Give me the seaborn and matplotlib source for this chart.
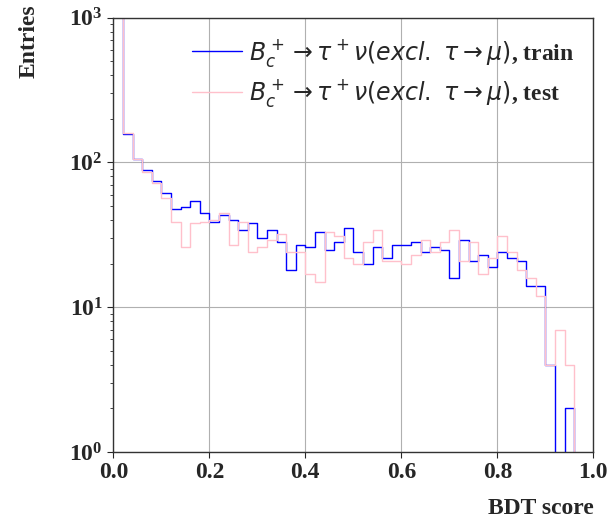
import numpy as np
import pandas as pd
import matplotlib
matplotlib.use("Agg")
import matplotlib.pyplot as plt
import seaborn as sns

# 50 bins on [0, 1]
n_bins = 50
bin_range = (0.0, 1.0)
train_counts = [3000, 156, 106, 89, 74, 61, 48, 49, 54, 45,
                39, 43, 40, 34, 38, 30, 34, 28, 18, 27,
                26, 33, 25, 28, 35, 24, 20, 26, 22, 27,
                27, 28, 24, 26, 25, 16, 29, 21, 23, 19,
                24, 22, 21, 14, 14, 4, 0, 2, 0, 0]
test_counts = [3000, 160, 106, 86, 72, 57, 39, 26, 38, 39,
               40, 45, 27, 39, 24, 26, 29, 32, 24, 24,
               17, 15, 33, 31, 22, 20, 28, 34, 21, 21,
               20, 23, 29, 24, 28, 34, 21, 28, 17, 22,
               31, 24, 18, 16, 12, 4, 7, 4, 0, 0]
label_train = r"$B_c^+\to\tau^+\nu(excl.\ \tau\to\mu)$, train"
label_test = r"$B_c^+\to\tau^+\nu(excl.\ \tau\to\mu)$, test"
x_ticks = [0.0, 0.2, 0.4, 0.6, 0.8, 1.0]

bin_edges = np.linspace(bin_range[0], bin_range[1], n_bins + 1)
centers = 0.5 * (bin_edges[:-1] + bin_edges[1:])
df = pd.DataFrame({"score": centers, "train": train_counts, "test": test_counts})

sns.set_style("white")
plt.rcParams["font.family"] = ["Liberation Serif", "DejaVu Serif"]
plt.rcParams["font.weight"] = "normal"
plt.rcParams["mathtext.fontset"] = "dejavusans"

fig = plt.figure(figsize=(6.07, 5.18), dpi=100)
ax = fig.add_axes([0.1867, 0.1274, 0.7908, 0.8386])

sns.histplot(data=df, x="score", weights="train", bins=n_bins, binrange=bin_range,
             element="step", fill=False, color="blue", linewidth=1.0,
             label=label_train, ax=ax)
sns.histplot(data=df, x="score", weights="test", bins=n_bins, binrange=bin_range,
             element="step", fill=False, color="pink", linewidth=1.0,
             label=label_test, ax=ax)

ax.set_yscale("log", nonpositive="clip")
ax.set_ylim(1, 1000)
ax.set_xlim(0, 1)
ax.set_xticks(x_ticks)
ax.set_xticklabels([f"{t:.1f}" for t in x_ticks])
ax.grid(True, which="major", color="#b0b0b0", linewidth=0.8)
ax.tick_params(axis="both", which="major", labelsize=17, length=4, width=0.8,
               direction="out", left=True, bottom=True)
ax.tick_params(axis="y", which="minor", length=2.5, width=0.6, left=True)
for lab in ax.get_xticklabels() + ax.get_yticklabels():
    lab.set_fontweight("bold")
for s in ax.spines.values():
    s.set_color("#333333")
    s.set_linewidth(1.0)

ax.set_xlabel("BDT score", fontsize=17, fontweight="bold")
ax.xaxis.set_label_coords(1.0, -0.105)
ax.xaxis.label.set_horizontalalignment("right")
ax.set_ylabel("Entries", fontsize=17, fontweight="bold")
ax.yaxis.set_label_coords(-0.153, 1.03)
ax.yaxis.label.set_horizontalalignment("right")

ax.legend(loc="upper right", frameon=False, handlelength=2.1, handletextpad=0.3,
          labelspacing=0.35, borderaxespad=0.4,
          prop={"weight": "bold", "size": 17})

fig.savefig("out.png", dpi=100)
